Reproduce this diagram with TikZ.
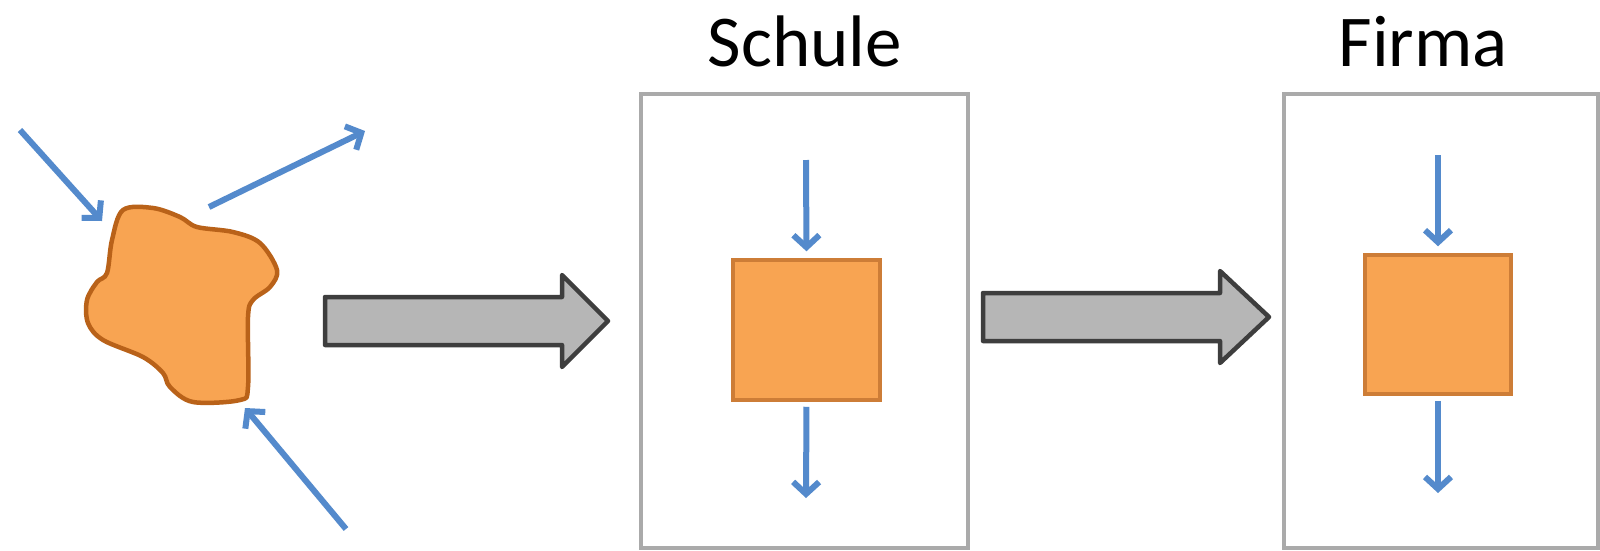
\documentclass[tikz,border=0pt]{standalone}
\usepackage{fontspec}
\setmainfont{Carlito}
\usetikzlibrary{arrows.meta}
\definecolor{flowblue}{RGB}{84,138,204}
\definecolor{orfill}{RGB}{248,164,82}
\definecolor{orline}{RGB}{185,98,25}
\definecolor{sqline}{RGB}{205,125,55}
\definecolor{grfill}{RGB}{182,182,182}
\definecolor{grline}{RGB}{62,62,62}
\definecolor{frline}{RGB}{170,170,170}
\tikzset{
  flow/.style={draw=flowblue, line width=6pt, -{Straight Barb[length=12pt,width=26pt,line width=6pt]}},
  frame/.style={draw=frline, line width=4pt, fill=white, inner sep=0pt, rectangle},
  sq/.style={draw=sqline, line width=3.5pt, fill=orfill, inner sep=0pt, rectangle},
  blobstyle/.style={draw=orline, line width=4.5pt, fill=orfill, line join=round},
  bigarrow/.style={draw=grline, line width=4.5pt, fill=grfill, line join=round},
  title/.style={font=\fontsize{73}{80}\selectfont, text=black, inner sep=0pt}
}
\begin{document}
\begin{tikzpicture}[x=1pt,y=-1pt]
\useasboundingbox (0,0) rectangle (1600,550);
\fill[white] (0,0) rectangle (1600,550);
\clip (0,0) rectangle (1600,550);

% blob
\coordinate (blob) at (180,305);
\draw[blobstyle] plot[smooth cycle, tension=0.55] coordinates {
  (123,210) (153,208) (180,217) (197,227) (233,232) (260,243) (277,270)
  (270,287) (253,300) (248,317) (248,387) (240,400) (193,402) (170,387)
  (163,373) (143,357) (103,340) (88,323) (87,300) (97,282) (107,273) (112,240)};

% blue arrows around blob
\coordinate (inAs) at (20,130);
\coordinate (inAe) at (102,221);
\coordinate (outBs) at (209,207);
\coordinate (outBe) at (365,131);
\coordinate (inCs) at (346,529);
\coordinate (inCe) at (245,408);
\draw[flow] (inAs) -- (inAe);
\draw[flow] (outBs) -- (outBe);
\draw[flow] (inCs) -- (inCe);

% big gray arrows
\draw[bigarrow] (325,297) -- (562,297) -- (562,275) -- (608,321) -- (562,367) -- (562,345) -- (325,345) -- cycle;
\draw[bigarrow] (983,293) -- (1220,293) -- (1220,271) -- (1269,317) -- (1220,363) -- (1220,341) -- (983,341) -- cycle;

% titles
\node[title, anchor=base] (titleS) at (805,66) {Schule};
\node[title, anchor=base] (titleF) at (1423,66) {Firma};

% frames
\node[frame, minimum width=327pt, minimum height=454pt] (boxS) at (804.5,321) {};
\node[frame, minimum width=314pt, minimum height=454pt] (boxF) at (1441,321) {};

% squares
\node[sq, minimum width=147pt, minimum height=140pt] (sqS) at (806.5,330) {};
\node[sq, minimum width=146pt, minimum height=139pt] (sqF) at (1438,324.5) {};

% inner arrows
\coordinate (sTop) at (806,160);
\coordinate (sBot) at (806,498);
\coordinate (fTop) at (1438,155);
\coordinate (fBot) at (1438,493);
\draw[flow, shorten >=7pt] (sTop) -- (sqS.north);
\draw[flow, shorten <=5pt] (sqS.south) -- (sBot);
\draw[flow, shorten >=7pt] (fTop) -- (sqF.north);
\draw[flow, shorten <=5pt] (sqF.south) -- (fBot);
\end{tikzpicture}
\end{document}
